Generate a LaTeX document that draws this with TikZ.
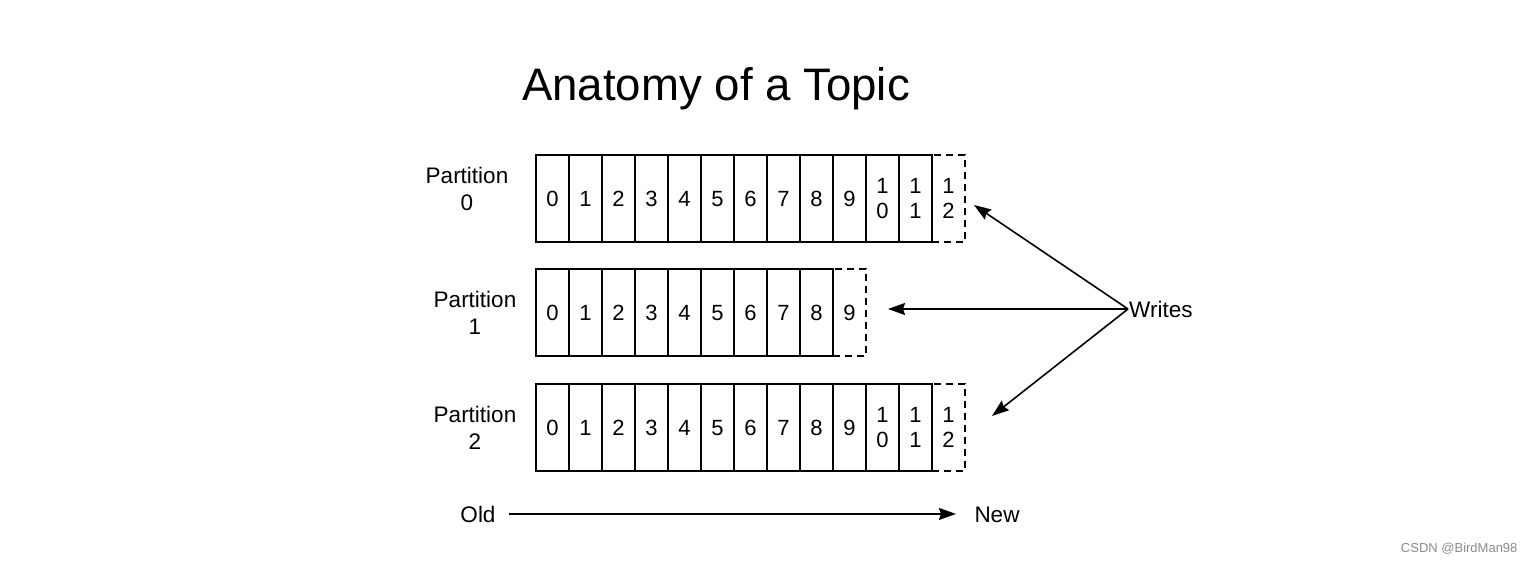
\documentclass[tikz,border=0pt]{standalone}
\usepackage{fontspec}
\setmainfont{Liberation Sans}
\usetikzlibrary{arrows.meta}

\tikzset{
  cell/.style={draw,line width=1.6pt,minimum width=33pt,minimum height=87pt,
    inner sep=0pt,align=center,font=\fontsize{22}{25}\selectfont},
  onecell/.style={cell,text height=16pt,text depth=0pt},
  newcell/.style={cell,dash pattern=on 7pt off 5pt},
  label/.style={align=center,font=\fontsize{22.5}{27}\selectfont},
  writearrow/.style={line width=1.6pt,-{Stealth[length=17pt,width=12pt,inset=2pt]}}
}

\begin{document}
\begin{tikzpicture}[x=1pt,y=-1pt]
  \useasboundingbox (0,0) rectangle (1535,564);
  \node[font=\fontsize{45.6}{50}\selectfont,anchor=base] (title) at (716,101)
    {Anatomy of a Topic};
  % partitions: row / centre y / label x / label y / last solid cell
  \foreach \r/\y/\lx/\ly/\n in {0/198.5/467/188.5/11, 1/312.5/475/312.5/8,
    2/427.5/475/427.5/11} {
    \node[label] (part\r) at (\lx,\ly) {Partition\\\r};
    \foreach \t [count=\i from 0] in {0,1,2,3,4,5,6,7,8,9,1\\0,1\\1} {
      \ifnum\i>\n\else
        \ifnum\i>9
          \node[cell] (p\r c\i) at ({552.5+33*\i},\y) {\t};
        \else
          \node[onecell] (p\r c\i) at ({552.5+33*\i},\y) {\t};
        \fi
      \fi
    }
  }
  \node[newcell] (p0new) at (948.5,198.5) {1\\2};
  \node[newcell,text height=16pt,text depth=0pt] (p1new) at (849.5,312.5) {9};
  \node[newcell] (p2new) at (948.5,427.5) {1\\2};
  % writes
  \node[label,anchor=west,inner sep=1pt] (writes) at (1128,309) {Writes};
  \coordinate (w0) at (974,205);
  \coordinate (w1) at (888,309);
  \coordinate (w2) at (992,416);
  \foreach \r in {0,1,2}
    \draw[writearrow] (writes.west) -- (w\r);
  % old to new
  \node[label,anchor=base] (old) at (478,522) {Old};
  \node[label,anchor=base] (new) at (997,522) {New};
  \draw[writearrow,shorten <=10pt,shorten >=15pt] (old.east) -- (old.east -| new.west);
  \node[font=\fontsize{13}{15}\selectfont,text=black!45,anchor=east]
    (mark) at (1521,549) {CSDN @BirdMan98};
\end{tikzpicture}
\end{document}
